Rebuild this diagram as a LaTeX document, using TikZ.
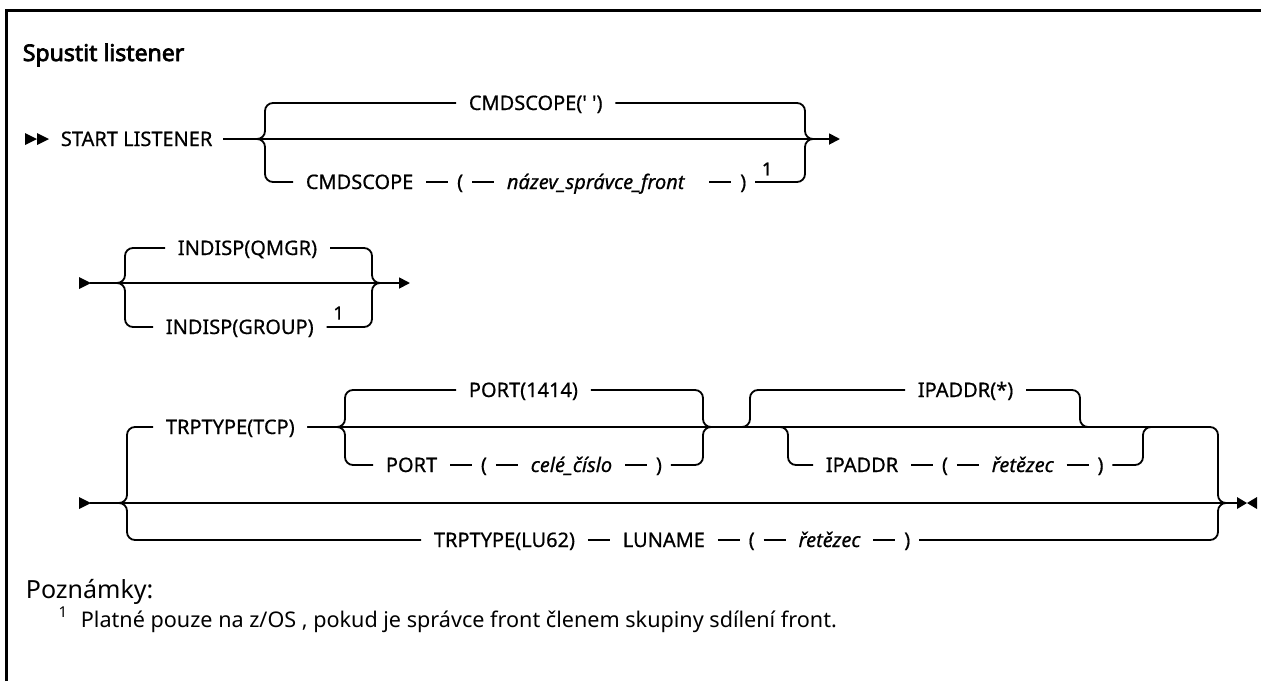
\documentclass[tikz,border=0pt]{standalone}
\usepackage{fontspec}
\setmainfont{Noto Sans}
\newfontfamily\diagfont{Noto Sans}[FakeBold=0.6]
\newfontfamily\titlefont{Noto Sans}[FakeBold=3]
\newfontfamily\supfont{Noto Sans}[FakeBold=1.4]
\usetikzlibrary{arrows.meta,positioning,calc}
\begin{document}
\begin{tikzpicture}[x=1pt,y=-1pt,
  line width=1.8pt,
  lbl/.style={inner xsep=12pt, inner ysep=0pt, text height=14pt, text depth=0pt,
    font=\diagfont\fontsize{20}{22}\selectfont, anchor=west},
  var/.style={lbl, font=\diagfont\fontsize{20}{22}\selectfont\itshape},
  par/.style={lbl, inner xsep=8pt},
  supr/.style={font=\supfont\fontsize{18}{19}\selectfont, inner sep=0pt},
  rc/.style={rounded corners=8pt},
  tip/.style={-{Triangle[length=11pt,width=11pt]}}]
\useasboundingbox (0,0) rectangle (1261,681);
% frame
\draw[line width=3pt] (6,681) -- (6,10) -- (1261,10);
% title
\node[font=\titlefont\fontsize{23}{26}\selectfont, anchor=base west, inner sep=0pt] (title) at (22,61) {Spustit listener};

% ---------- row 1 ----------
\fill (25,133) -- (37,139) -- (25,145) -- cycle;
\fill (37,133) -- (49,139) -- (37,145) -- cycle;
\node[lbl, inner xsep=10pt] (start) at (50,139) {START LISTENER};
\coordinate (e1) at (840,139);
\node[lbl] (top1) at (456,103) {CMDSCOPE(\textquotesingle\ \textquotesingle)};
\node[lbl] (cmdb) at (293,182) {CMDSCOPE};
\node[par, right=22pt of cmdb] (lp1) {(};
\node[var, right=22pt of lp1] (qmn) {název\_správce\_front\hspace*{12pt}};
\node[par, right=22pt of qmn] (rp1) {)};
\node[supr] (n1) at ($(rp1.east)+(12,-13)$) {1};
\draw[tip] (start.east) -- (e1);
\draw[rc] (start.east) -| (265,103) -- (top1.west);
\draw[rc] (start.east) -| (265,182) -- (cmdb.west);
\draw (cmdb.east) -- (lp1.west);
\draw (lp1.east) -- (qmn.west);
\draw (qmn.east) -- (rp1.west);
\draw[rc] (top1.east) -| (805,139) -- (818,139);
\draw[rc] (rp1.east) -| (805,139) -- (818,139);

% ---------- row 2 ----------
\fill (79,277) -- (91,283) -- (79,289) -- cycle;
\coordinate (s2) at (90,283);
\coordinate (e2) at (410,283);
\node[lbl] (qmgr) at (165,248) {INDISP(QMGR)};
\node[lbl] (group) at (153,327) {INDISP(GROUP)};
\node[supr] (n2) at ($(group.east)+(12,-14)$) {1};
\draw[tip] (s2) -- (e2);
\draw[rc] (s2) -| (125,248) -- (qmgr.west);
\draw[rc] (s2) -| (125,327) -- (group.west);
\draw[rc] (qmgr.east) -| (372,283) -- (385,283);
\draw[rc] (group.east) -| (372,283) -- (385,283);

% ---------- row 3 ----------
\fill (79,497) -- (91,503) -- (79,509) -- cycle;
\coordinate (s3) at (90,503);
\coordinate (e3) at (1240,503);
\node[lbl] (tcp) at (153,427) {TRPTYPE(TCP)};
\node[lbl] (p1414) at (456,390) {PORT(1414)};
\node[lbl] (portb) at (373,465) {PORT};
\node[par, right=22pt of portb] (lp2) {(};
\node[var, right=22pt of lp2] (cele) {celé\_číslo};
\node[par, right=22pt of cele] (rp2) {)};
\node[lbl] (ipstar) at (905,390) {IPADDR(*)};
\node[lbl] (ipb) at (813,465) {IPADDR};
\node[par, right=22pt of ipb] (lp3) {(};
\node[var, right=22pt of lp3] (ret1) {řetězec};
\node[par, right=22pt of ret1] (rp3) {)};
\node[lbl] (lu62) at (421,540) {TRPTYPE(LU62)};
\node[lbl, right=22pt of lu62] (luname) {LUNAME};
\node[par, right=22pt of luname] (lp4) {(};
\node[var, right=22pt of lp4] (ret2) {řetězec};
\node[par, right=22pt of ret2] (rp4) {)};

\draw (s3) -- (e3);
\draw[rc] (s3) -| (127,427) -- (tcp.west);
\draw[rc] (s3) -| (127,540) -- (lu62.west);
\draw[rc] (tcp.east) -| (1218,503) -- (1230,503);
\draw[rc] (rp4.east) -| (1218,503) -- (1230,503);
% port
\draw[rc] (tcp.east) -| (345,390) -- (p1414.west);
\draw[rc] (tcp.east) -| (345,465) -- (portb.west);
\draw (portb.east) -- (lp2.west);
\draw (lp2.east) -- (cele.west);
\draw (cele.east) -- (rp2.west);
\draw[rc] (p1414.east) -| (703,427) -- (715,427);
\draw[rc] (rp2.east) -| (703,427) -- (715,427);
% ipaddr
\draw[rc] (tcp.east) -| (750,390) -- (ipstar.west);
\draw[rc] (tcp.east) -| (788,465) -- (ipb.west);
\draw (ipb.east) -- (lp3.west);
\draw (lp3.east) -- (ret1.west);
\draw (ret1.east) -- (rp3.west);
\draw[rc] (ipstar.east) -| (1080,427) -- (1092,427);
\draw[rc] (rp3.east) -| (1143,427) -- (1155,427);
% lu62
\draw (lu62.east) -- (luname.west);
\draw (luname.east) -- (lp4.west);
\draw (lp4.east) -- (ret2.west);
\draw (ret2.east) -- (rp4.west);
% end mark
\fill (1237,497) -- (1247,503) -- (1237,509) -- cycle;
\fill (1257,497) -- (1247,503) -- (1257,509) -- cycle;

% ---------- notes ----------
\node[font=\fontsize{25}{28}\selectfont, anchor=base west, inner sep=0pt] (notes) at (25,598) {Poznámky:};
\node[font=\fontsize{15}{16}\selectfont, inner sep=0pt] (fnmark) at (63,612) {1};
\node[font=\fontsize{21.6}{24}\selectfont, anchor=base west, inner sep=0pt] (fn) at (80,627) {Platné pouze na z/OS , pokud je správce front členem skupiny sdílení front.};
\end{tikzpicture}
\end{document}
